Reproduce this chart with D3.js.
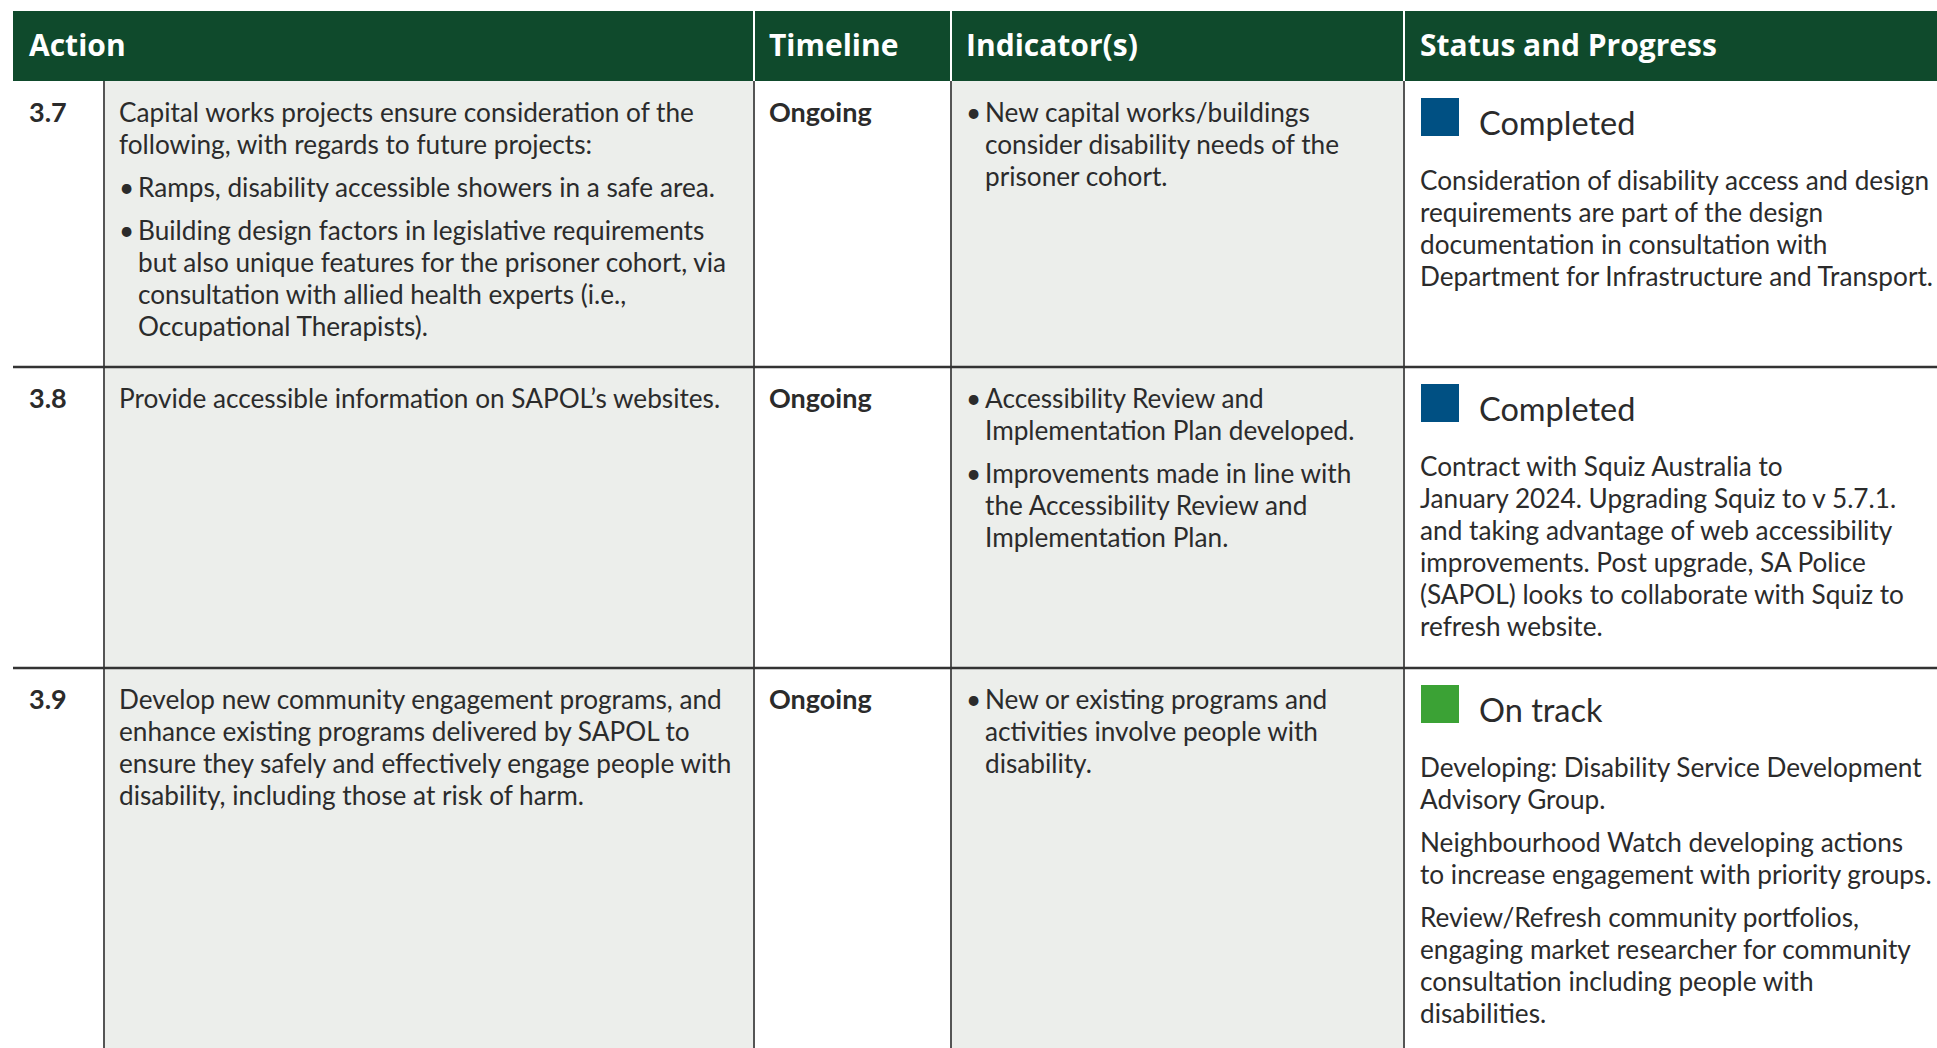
<!DOCTYPE html>
<html><head><meta charset="utf-8">
<script src="https://cdn.jsdelivr.net/npm/d3@7"></script>
<style>
html,body{margin:0;padding:0;background:#fff;overflow:hidden;}
svg{display:block;}
</style></head>
<body>
<svg id="c" width="1937" height="1048"></svg>
<script>
// ---------- data ----------
const headers = ["Action", "Timeline", "Indicator(s)", "Status and Progress"];
const ids = ["3.7", "3.8", "3.9"];
const timelines = ["Ongoing", "Ongoing", "Ongoing"];
// each paragraph: {b: bullet?, lines: [...]}
const actions = [
  [{b:false, lines:["Capital works projects ensure consideration of the","following, with regards to future projects:"]},
   {b:true, lines:["Ramps, disability accessible showers in a safe area."]},
   {b:true, lines:["Building design factors in legislative requirements","but also unique features for the prisoner cohort, via","consultation with allied health experts (i.e.,","Occupational Therapists)."]}],
  [{b:false, lines:["Provide accessible information on SAPOL\u2019s websites."]}],
  [{b:false, lines:["Develop new community engagement programs, and","enhance existing programs delivered by SAPOL to","ensure they safely and effectively engage people with","disability, including those at risk of harm."]}]
];
const indicators = [
  [{b:true, lines:["New capital works/buildings","consider disability needs of the","prisoner cohort."]}],
  [{b:true, lines:["Accessibility Review and","Implementation Plan developed."]},
   {b:true, lines:["Improvements made in line with","the Accessibility Review and","Implementation Plan."]}],
  [{b:true, lines:["New or existing programs and","activities involve people with","disability."]}]
];
const statuses = ["Completed", "Completed", "On track"];
const statusColors = {"Completed":"#005083", "On track":"#3ba235"};
const progress = [
  [{b:false, lines:["Consideration of disability access and design","requirements are part of the design","documentation in consultation with","Department for Infrastructure and Transport."]}],
  [{b:false, lines:["Contract with Squiz Australia to","January 2024. Upgrading Squiz to v 5.7.1.","and taking advantage of web accessibility","improvements. Post upgrade, SA Police","(SAPOL) looks to collaborate with Squiz to","refresh website."]}],
  [{b:false, lines:["Developing: Disability Service Development","Advisory Group."]},
   {b:false, lines:["Neighbourhood Watch developing actions","to increase engagement with priority groups."]},
   {b:false, lines:["Review/Refresh community portfolios,","engaging market researcher for community","consultation including people with","disabilities."]}]
];

// ---------- layout ----------
const W = 1937, H = 1048;
const svg = d3.select("#c");
const FONT = "Lato, 'Open Sans', sans-serif";
const HFONT = "'Open Sans', Lato, sans-serif";
const GREEN = "#0f4a2c", GREY = "#eceeeb", TEXT = "#2b2b2b";

const colEdges = [13, 104, 754, 951, 1404, 1960]; // id | action | timeline | indicator | status
const headerTop = 11, headerBot = 81;
const rowTops = [81, 367, 668, 1100];
const x = d3.scaleOrdinal().domain(["id","action","timeline","indicator","status"]).range(colEdges.slice(0,5));
const rowTop = i => rowTops[i];
const rowBot = i => rowTops[i+1];

const LH = 32, PGAP = 11, FS = 26.2, FSB = 27;

// cell backgrounds
const bgCols = [["id","#fff",0],["action",GREY,1],["timeline","#fff",2],["indicator",GREY,3],["status","#fff",4]];
ids.forEach((id,i)=>{
  bgCols.forEach(([k,c,j])=>{
    svg.append("rect").attr("x",x(k)).attr("y",rowTop(i))
      .attr("width",colEdges[j+1]-colEdges[j]).attr("height",rowBot(i)-rowTop(i)).attr("fill",c);
  });
});

// header
svg.append("rect").attr("x",colEdges[0]).attr("y",headerTop).attr("width",W-colEdges[0]).attr("height",headerBot-headerTop).attr("fill",GREEN);
const headerX = [29, 769, 966, 1420];
[colEdges[2], colEdges[3], colEdges[4]].forEach(xx=>{
  svg.append("line").attr("x1",xx).attr("x2",xx).attr("y1",headerTop).attr("y2",headerBot).attr("stroke","#fff").attr("stroke-width",2);
});
headers.forEach((h,i)=>{
  svg.append("text").attr("x",headerX[i]).attr("y",56).text(h)
    .attr("font-family",HFONT).attr("font-weight",700).attr("font-size",30).attr("fill","#fff");
});

// vertical grid lines
[colEdges[1], colEdges[2], colEdges[3], colEdges[4]].forEach(xx=>{
  svg.append("line").attr("x1",xx).attr("x2",xx).attr("y1",headerBot).attr("y2",H).attr("stroke","#555").attr("stroke-width",2);
});
// row separators
rowTops.slice(1,3).forEach(yy=>{
  svg.append("line").attr("x1",colEdges[0]).attr("x2",W).attr("y1",yy).attr("y2",yy).attr("stroke","#333").attr("stroke-width",2.5);
});

function paras(g, list, x0, y0, bulletX, bulletTextX){
  let yy = y0;
  list.forEach((p,pi)=>{
    if(pi>0) yy += PGAP;
    p.lines.forEach((ln,li)=>{
      if(p.b && li===0){
        g.append("text").attr("x",bulletX).attr("y",yy).text("\u2022")
          .attr("font-family",FONT).attr("font-size",FS).attr("fill",TEXT);
      }
      g.append("text").attr("x",p.b?bulletTextX:x0).attr("y",yy).text(ln)
        .attr("font-family",FONT).attr("font-size",FS).attr("fill",TEXT);
      yy += LH;
    });
  });
}

ids.forEach((id,i)=>{
  const t = rowTop(i);
  const g = svg.append("g");
  g.append("text").attr("x",29).attr("y",t+41).text(id)
    .attr("font-family",FONT).attr("font-weight",700).attr("font-size",FSB).attr("fill",TEXT);
  paras(g, actions[i], 119, t+41, 119, 138);
  g.append("text").attr("x",769).attr("y",t+41).text(timelines[i])
    .attr("font-family",FONT).attr("font-weight",700).attr("font-size",FSB).attr("fill",TEXT);
  paras(g, indicators[i], 985, t+41, 966, 985);
  g.append("rect").attr("x",1421).attr("y",t+17).attr("width",38).attr("height",38).attr("fill",statusColors[statuses[i]]);
  g.append("text").attr("x",1479).attr("y",t+54).text(statuses[i])
    .attr("font-family",FONT).attr("font-size",32.5).attr("fill",TEXT);
  paras(g, progress[i], 1420, t+109, 1420, 1420);
});
</script>
</body></html>
